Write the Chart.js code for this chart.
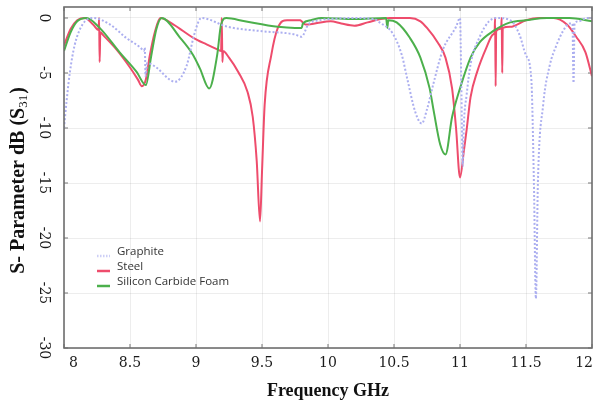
<!DOCTYPE html>
<html>
<head>
<meta charset="utf-8">
<script src="https://cdn.jsdelivr.net/npm/chart.js@4"></script>
<style>
  html, body { margin: 0; padding: 0; background: #fff; }
  #wrap { width: 600px; height: 405px; }
</style>
</head>
<body>
<div id="wrap"><canvas id="chart" width="600" height="405"></canvas></div>
<script>
(function () {
    'use strict';

    // values (GHz / dB)
    const graphiteFreq = [8.00, 8.02, 8.045, 8.08, 8.14, 8.22, 8.35, 8.47, 8.58, 8.605, 8.612, 8.618, 8.63, 8.70, 8.80, 8.84, 8.93, 8.98, 9.02, 9.04,
        9.24, 9.50, 9.75, 9.80, 9.85, 9.93, 10.00, 10.20, 10.35, 10.39, 10.49, 10.56, 10.60, 10.66, 10.71, 10.75, 10.80, 10.87, 10.97, 11.00,
        11.01, 11.02, 11.03, 11.05, 11.08, 11.15, 11.22, 11.28, 11.38, 11.45, 11.50, 11.54, 11.56, 11.575, 11.59, 11.63, 11.68, 11.73, 11.78,
        11.83, 11.852, 11.86, 11.868, 11.90, 11.96, 12.00];
    const graphiteDb = [-10.0, -7.5, -4.9, -2.5, -0.6, 0, -0.6, -1.8, -2.7, -3.0, -2.7, -5.3, -4.1, -4.5, -5.6, -5.8, -4.3, -1.8, -0.3, 0,
        -0.8, -1.2, -1.5, -1.7, -0.6, -0.2, -0.1, 0, -0.1, -0.4, -1.4, -3.4, -5.5, -8.5, -9.6, -8.3, -5.9, -2.9, -0.8, 0,
        -6.0, -13.5, -9.5, -7.0, -4.2, -1.7, -0.3, 0, -0.2, -1.5, -3.4, -5.5, -15.0, -25.5, -15.0, -7.9, -4.3, -2.5, -1.2,
        -0.5, -0.5, -5.9, -0.5, -0.3, 0, 0];

    const steelFreq = [8.00, 8.05, 8.10, 8.16, 8.22, 8.262, 8.266, 8.27, 8.275, 8.30, 8.40, 8.50, 8.56, 8.59, 8.62, 8.65, 8.69, 8.73, 8.83, 8.98,
        9.08, 9.17, 9.19, 9.195, 9.20, 9.205, 9.25, 9.32, 9.39, 9.43, 9.46, 9.485, 9.50, 9.52, 9.57, 9.62, 9.69, 9.79, 9.80, 9.83,
        9.90, 10.02, 10.10, 10.20, 10.30, 10.40, 10.47, 10.62, 10.70, 10.75, 10.83, 10.89, 10.94, 10.97, 11.00, 11.03, 11.05, 11.08, 11.13, 11.20,
        11.25, 11.262, 11.266, 11.27, 11.274, 11.30, 11.312, 11.316, 11.32, 11.324, 11.38, 11.50, 11.60, 11.71, 11.81, 11.88, 11.95, 12.00];
    const steelDb = [-2.5, -1.0, -0.2, 0, -0.6, -1.1, 0, -4.0, -1.3, -1.6, -2.9, -4.5, -5.6, -6.2, -5.6, -3.4, -1.2, 0, -0.6, -1.8,
        -2.4, -2.9, -3.0, 0, -4.0, -3.0, -3.6, -4.9, -6.7, -9.0, -13.0, -18.5, -14.0, -7.9, -3.4, -0.9, -0.2, -0.2, -0.3, -0.6,
        -0.5, -0.3, -0.5, -0.7, -0.4, -0.1, 0, 0, -0.3, -0.9, -2.2, -3.6, -6.4, -10.0, -14.5, -12.0, -10.2, -7.2, -4.9, -2.7,
        -1.5, -1.3, 0, -6.2, -1.2, -1.0, -0.9, 0, -5.0, -0.9, -0.8, -0.2, 0, 0, -0.6, -1.7, -3.1, -5.3];

    const sicFreq = [8.00, 8.05, 8.10, 8.17, 8.27, 8.42, 8.55, 8.62, 8.66, 8.70, 8.74, 8.88, 8.98, 9.03, 9.10, 9.16, 9.19, 9.23, 9.37, 9.62,
        9.75, 9.80, 9.81, 9.87, 9.95, 10.20, 10.44, 10.45, 10.456, 10.52, 10.62, 10.70, 10.77, 10.80, 10.85, 10.89, 10.94, 11.00, 11.08, 11.15,
        11.25, 11.38, 11.50, 11.66, 11.83, 12.00];
    const sicDb = [-3.0, -1.3, -0.3, 0, -0.9, -3.1, -4.9, -6.1, -3.5, -1.0, 0, -1.8, -3.4, -4.6, -6.4, -3.4, -0.6, 0, -0.3, -0.8,
        -0.9, -0.9, -0.5, -0.2, 0, -0.1, 0, -0.9, -0.2, -0.4, -1.8, -3.6, -6.4, -8.4, -11.5, -12.4, -9.0, -6.4, -3.6, -2.2,
        -1.2, -0.4, -0.2, 0, 0, -0.3];

    const seriesNames = ['Graphite', 'Steel', 'Silicon Carbide Foam'];
    const xTickLabels = ['8', '8.5', '9', '9.5', '10', '10.5', '11', '11.5', '12'];
    const yTickLabels = ['0', '-5', '-10', '-15', '-20', '-25', '-30'];

    const GRAPHITE = 'rgb(172, 175, 240)';
    const STEEL = 'rgb(238, 76, 108)';
    const SIC = 'rgb(76, 176, 76)';
    const TICK_FONT = '14px "DejaVu Serif"';

    function pts(xs, ys) {
        return xs.map((x, i) => ({ x: x, y: ys[i] }));
    }

    const frame = {
        id: 'frame',
        beforeDatasetsDraw(chart) {
            const ctx = chart.ctx;
            const a = chart.chartArea;
            const xs = chart.scales.x;
            const ys = chart.scales.y;
            ctx.save();
            // small tick marks pointing inwards
            ctx.strokeStyle = '#777';
            ctx.lineWidth = 1;
            ctx.beginPath();
            xs.ticks.forEach(t => {
                const p = xs.getPixelForValue(t.value);
                ctx.moveTo(p, a.top); ctx.lineTo(p, a.top + 4);
                ctx.moveTo(p, a.bottom); ctx.lineTo(p, a.bottom - 4);
            });
            ys.ticks.forEach(t => {
                const p = ys.getPixelForValue(t.value);
                ctx.moveTo(a.left, p); ctx.lineTo(a.left + 4, p);
                ctx.moveTo(a.right, p); ctx.lineTo(a.right - 4, p);
            });
            ctx.stroke();
            ctx.restore();
        },
        afterDraw(chart) {
            const ctx = chart.ctx;
            const a = chart.chartArea;
            const xs = chart.scales.x;
            const ys = chart.scales.y;
            ctx.save();
            ctx.strokeStyle = '#6e6e6e';
            ctx.lineWidth = 1.6;
            ctx.strokeRect(a.left, a.top, a.right - a.left, a.bottom - a.top);

            // x tick labels
            ctx.fillStyle = '#1a1a1a';
            ctx.font = TICK_FONT;
            ctx.textBaseline = 'middle';
            xTickLabels.forEach((lab, i) => {
                const p = xs.getPixelForValue(parseFloat(lab));
                if (i === 0) { ctx.textAlign = 'left'; ctx.fillText(lab, p + 5, a.bottom + 15); }
                else if (i === xTickLabels.length - 1) { ctx.textAlign = 'right'; ctx.fillText(lab, p + 1, a.bottom + 15); }
                else { ctx.textAlign = 'center'; ctx.fillText(lab, p, a.bottom + 15); }
            });

            // y tick labels, turned clockwise
            yTickLabels.forEach(lab => {
                const p = ys.getPixelForValue(parseFloat(lab));
                ctx.save();
                ctx.translate(a.left - 20, p);
                ctx.rotate(Math.PI / 2);
                ctx.textAlign = 'center';
                ctx.textBaseline = 'middle';
                ctx.fillText(lab, 0, 0);
                ctx.restore();
            });

            // axis titles
            ctx.fillStyle = '#111';
            ctx.font = 'bold 18px "Liberation Serif"';
            ctx.textAlign = 'center';
            ctx.textBaseline = 'middle';
            ctx.fillText('Frequency GHz', (a.left + a.right) / 2, a.bottom + 43);

            ctx.save();
            ctx.translate(19, (a.top + a.bottom) / 2 + 3);
            ctx.rotate(-Math.PI / 2);
            const main = 'S- Parameter dB (S';
            const big = 'bold 20px "Liberation Serif"';
            const small = '13px "Liberation Serif"';
            ctx.font = big;
            const w1 = ctx.measureText(main).width;
            const w3 = ctx.measureText(')').width;
            ctx.font = small;
            const w2 = ctx.measureText('31').width + 1;
            const x0 = -(w1 + w2 + w3) / 2;
            ctx.textAlign = 'left';
            ctx.font = big;
            ctx.fillText(main, x0, 0);
            ctx.font = small;
            ctx.fillText('31', x0 + w1, 5);
            ctx.font = big;
            ctx.fillText(')', x0 + w1 + w2, 0);
            ctx.restore();

            // legend inside the plot
            const lx = a.left + 33;
            const rows = [253, 268, 283];
            const cols = [GRAPHITE, STEEL, SIC];
            ctx.font = '11.5px "Open Sans"';
            ctx.fillStyle = '#333';
            ctx.textAlign = 'left';
            ctx.textBaseline = 'middle';
            seriesNames.forEach((name, i) => {
                ctx.save();
                ctx.strokeStyle = cols[i];
                ctx.lineWidth = 2.5;
                if (i === 0) { ctx.setLineDash([1.5, 1.5]); ctx.globalAlpha = 0.6; }
                ctx.beginPath();
                ctx.moveTo(lx, rows[i] + 3);
                ctx.lineTo(lx + 13, rows[i] + 3);
                ctx.stroke();
                ctx.restore();
                ctx.fillText(name, lx + 20, rows[i] - 1);
            });
            ctx.restore();
        }
    };

    new Chart(document.getElementById('chart'), {
        type: 'scatter',
        data: {
            datasets: [{
                label: seriesNames[0],
                data: pts(graphiteFreq, graphiteDb),
                borderColor: GRAPHITE,
                borderWidth: 2,
                borderDash: [2, 2],
                showLine: true,
                pointRadius: 0,
            }, {
                label: seriesNames[2],
                data: pts(sicFreq, sicDb),
                borderColor: SIC,
                borderWidth: 2,
                showLine: true,
                pointRadius: 0,
            }, {
                label: seriesNames[1],
                data: pts(steelFreq, steelDb),
                borderColor: STEEL,
                borderWidth: 2,
                showLine: true,
                pointRadius: 0,
            }]
        },
        options: {
            responsive: false,
            animation: false,
            cubicInterpolationMode: 'monotone',
            layout: { padding: { left: 64, right: 8, top: 7, bottom: 57 } },
            plugins: { legend: { display: false }, tooltip: { enabled: false } },
            scales: {
                x: {
                    type: 'linear', min: 8, max: 12,
                    ticks: { display: false, stepSize: 0.5 },
                    grid: { color: 'rgba(0,0,0,0.07)', drawTicks: false },
                    border: { display: false }
                },
                y: {
                    min: -30, max: 1,
                    ticks: { display: false, stepSize: 5, includeBounds: false },
                    grid: { color: 'rgba(0,0,0,0.07)', drawTicks: false },
                    border: { display: false }
                }
            }
        },
        plugins: [frame]
    });
})();
</script>
</body>
</html>
